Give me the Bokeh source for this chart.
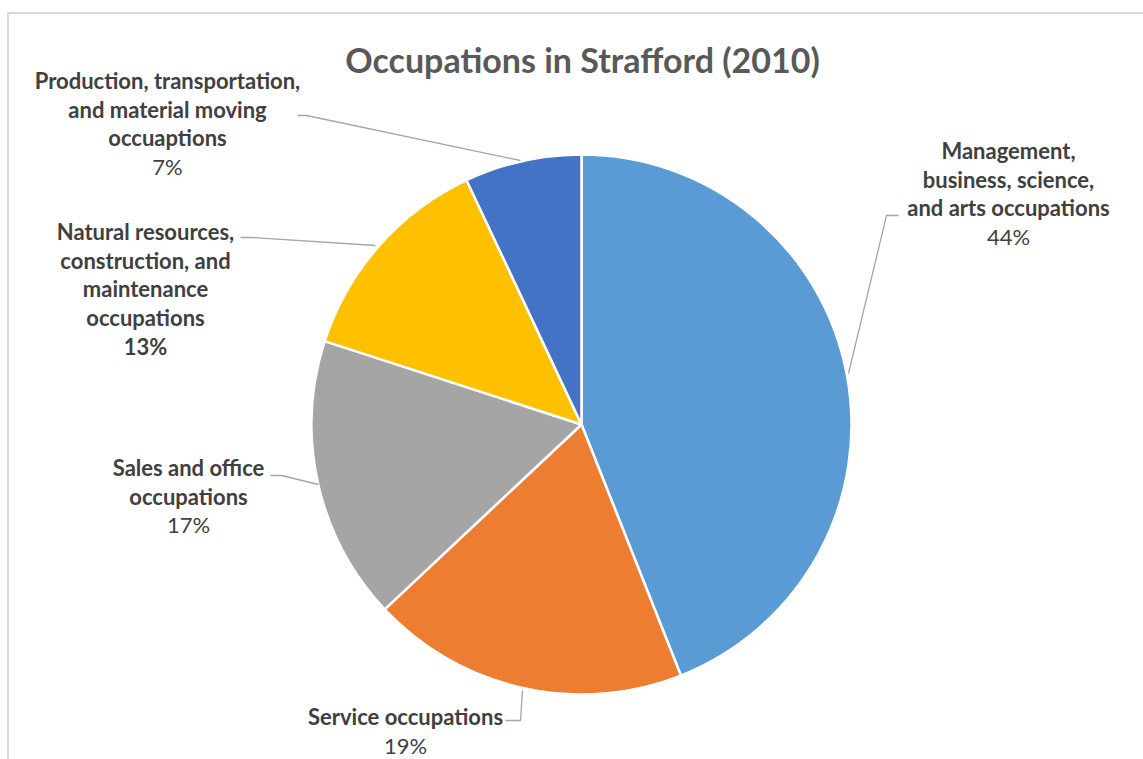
import math
from bokeh.plotting import figure
from bokeh.models import Range1d
from bokeh.core.properties import value
from bokeh.embed import file_html
from bokeh.resources import INLINE

# ---- data ----
title = "Occupations in Strafford (2010)"
categories = [
    "Management, business, science, and arts occupations",
    "Service occupations",
    "Sales and office occupations",
    "Natural resources, construction, and maintenance occupations",
    "Production, transportation, and material moving occuaptions",
]
values = [44, 19, 17, 13, 7]
colors = ["#5B9BD5", "#ED7D31", "#A5A5A5", "#FFC000", "#4472C4"]
label_lines = [
    ["Management,", "business, science,", "and arts occupations"],
    ["Service occupations"],
    ["Sales and office", "occupations"],
    ["Natural resources,", "construction, and", "maintenance", "occupations"],
    ["Production, transportation,", "and material moving", "occuaptions"],
]
pct_bold = [False, False, False, True, False]

# ---- layout (screen px) ----
W, H = 1143, 759
def sy(y):
    return H - y

cx, cy, R = 581, sy(424), 270
label_pos = [(1008, 150), (405, 716), (188, 467), (145, 231), (167, 80)]  # first-line centre
line_h = 28.7
leaders = [
    [(898, 215), (886, 215), (848, 373)],
    [(505, 720), (520, 720), (522, 690)],
    [(270, 475), (281, 475), (318, 484)],
    [(240, 237), (251, 237), (375, 245)],
    [(297, 115), (306, 115), (520, 160)],
]

p = figure(width=W, height=H, x_range=Range1d(0, W), y_range=Range1d(0, H),
           output_backend="svg", toolbar_location=None, min_border=0)
p.axis.visible = False
p.grid.visible = False
p.outline_line_color = None
p.background_fill_color = "white"
p.border_fill_color = "white"

# chart border (left and top edges visible)
p.line([7.5, 7.5], [sy(12.5), sy(780)], line_color="#D9D9D9", line_width=2)
p.line([7, 1160], [sy(12.5), sy(12.5)], line_color="#D9D9D9", line_width=2)

total = float(sum(values))
cum = 0.0
starts, ends = [], []
for v in values:
    starts.append(math.pi / 2 - 2 * math.pi * cum / total)
    cum += v
    ends.append(math.pi / 2 - 2 * math.pi * cum / total)

p.wedge(x=cx, y=cy, radius=R, start_angle=starts, end_angle=ends, direction="clock",
        fill_color=colors, line_color="white", line_width=2.5)

for pts in leaders:
    p.line([q[0] for q in pts], [sy(q[1]) for q in pts], line_color="#A6A6A6", line_width=1.3)

font = value("Lato")
fs = "22px"
for i, lines in enumerate(label_lines):
    lx, ly = label_pos[i]
    for j, t in enumerate(lines):
        p.text(x=[lx], y=[sy(ly + j * line_h)], text=[t], text_font=font,
               text_font_style="bold", text_font_size=fs, text_color="#404040",
               text_align="center", text_baseline="middle")
    p.text(x=[lx], y=[sy(ly + len(lines) * line_h)], text=[f"{values[i]}%"], text_font=font,
           text_font_style="bold" if pct_bold[i] else "normal", text_font_size=fs,
           text_color="#404040", text_align="center", text_baseline="middle")

p.text(x=[582], y=[sy(59)], text=[title], text_font=font, text_font_style="bold",
       text_font_size="34px", text_color="#595959", text_align="center", text_baseline="middle")

open("out.html", "w").write(file_html(p, INLINE))
